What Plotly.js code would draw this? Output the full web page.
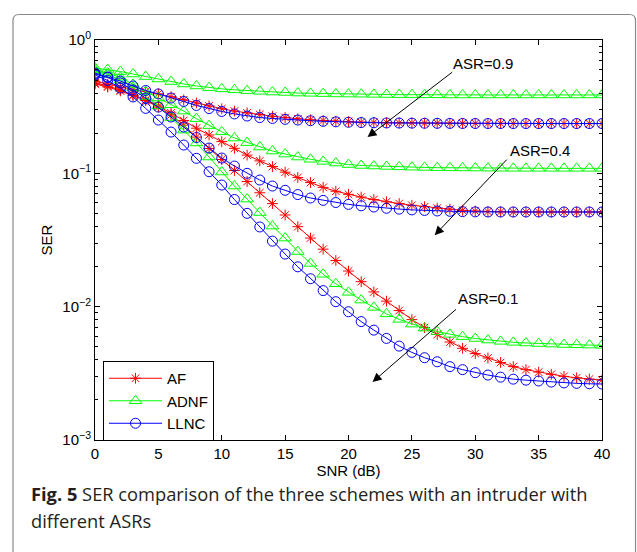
<!DOCTYPE html>
<html>
<head>
<meta charset="utf-8">
<script src="https://cdn.plot.ly/plotly-3.0.1.min.js"></script>
<style>html,body{margin:0;padding:0;background:#fff;}#chart{width:637px;height:552px;}</style>
</head>
<body>
<div id="chart"></div>
<script>
// SNR values (dB)
const snr = [0,1,2,3,4,5,6,7,8,9,10,11,12,13,14,15,16,17,18,19,20,21,22,23,24,25,26,27,28,29,30,31,32,33,34,35,36,37,38,39,40];

// ASR = 0.9
const af09 = [0.49,0.466,0.443,0.425,0.41,0.395,0.376,0.356,0.337,0.32,0.305,0.293,0.284,0.276,0.268,0.262,0.256,0.252,0.249,0.246,0.244,0.242,0.241,0.240,0.239,0.239,0.238,0.238,0.2375,0.237,0.237,0.237,0.2368,0.2366,0.2365,0.2365,0.2364,0.2364,0.2363,0.2363,0.2363];
const adnf09 = [0.617,0.601,0.580,0.556,0.532,0.510,0.488,0.468,0.452,0.439,0.430,0.423,0.417,0.412,0.407,0.404,0.400,0.398,0.396,0.394,0.393,0.392,0.391,0.390,0.389,0.389,0.388,0.388,0.387,0.387,0.387,0.387,0.387,0.387,0.387,0.387,0.387,0.387,0.387,0.387,0.387];
const llnc09 = [0.565,0.528,0.492,0.452,0.418,0.394,0.367,0.346,0.323,0.306,0.291,0.279,0.269,0.262,0.258,0.254,0.251,0.248,0.2455,0.2434,0.2417,0.2404,0.2396,0.2387,0.2383,0.2379,0.2375,0.2371,0.2368,0.2366,0.2365,0.2364,0.2364,0.2363,0.2363,0.2363,0.2363,0.2363,0.2363,0.2363,0.2363];

// ASR = 0.4
const af04 = [0.476,0.452,0.422,0.387,0.355,0.320,0.284,0.249,0.218,0.194,0.173,0.154,0.137,0.124,0.1125,0.102,0.093,0.0853,0.0785,0.0734,0.0696,0.0664,0.0636,0.0612,0.0593,0.0576,0.0562,0.0549,0.0538,0.0528,0.0521,0.0517,0.0514,0.0513,0.0513,0.0513,0.0513,0.0513,0.0513,0.0513,0.0513];
const adnf04 = [0.60,0.565,0.525,0.465,0.41,0.367,0.327,0.293,0.257,0.228,0.205,0.184,0.170,0.1575,0.147,0.1395,0.1325,0.1274,0.123,0.1195,0.1164,0.1145,0.1135,0.1126,0.1118,0.1112,0.1107,0.1103,0.110,0.1098,0.1096,0.1094,0.1092,0.109,0.109,0.109,0.109,0.109,0.109,0.109,0.109];
const llnc04 = [0.556,0.523,0.476,0.422,0.367,0.314,0.2645,0.2226,0.1856,0.1548,0.1302,0.1134,0.100,0.0891,0.0803,0.0746,0.0693,0.0653,0.0627,0.0604,0.0585,0.0571,0.0559,0.0547,0.0539,0.0532,0.0527,0.0522,0.0519,0.0516,0.0514,0.0513,0.0513,0.0513,0.0513,0.0513,0.0513,0.0513,0.0513,0.0513,0.0513];

// ASR = 0.1
const af01 = [0.468,0.444,0.4145,0.383,0.352,0.314,0.274,0.230,0.187,0.1535,0.127,0.105,0.0868,0.0715,0.0593,0.0487,0.0398,0.0327,0.0270,0.0222,0.0185,0.0154,0.0129,0.0110,0.00935,0.0080,0.00697,0.00618,0.00543,0.00487,0.00445,0.00412,0.00381,0.00355,0.00337,0.00323,0.00311,0.0030,0.00293,0.00286,0.00281];
const adnf01 = [0.5855,0.551,0.501,0.440,0.377,0.320,0.262,0.211,0.169,0.1325,0.1023,0.0803,0.0641,0.0508,0.0402,0.0327,0.0259,0.0211,0.0175,0.01485,0.0128,0.0112,0.00988,0.00883,0.00803,0.0074,0.00691,0.0065,0.0062,0.00596,0.00577,0.00562,0.00549,0.0054,0.00534,0.00529,0.00524,0.0052,0.00518,0.00515,0.00513];
const llnc01 = [0.546,0.497,0.436,0.374,0.307,0.251,0.204,0.163,0.1296,0.1028,0.0817,0.0636,0.0501,0.0396,0.0310,0.0248,0.0199,0.0162,0.0132,0.0109,0.00916,0.00773,0.00667,0.00578,0.00506,0.00454,0.00414,0.00386,0.00355,0.00337,0.0032,0.00307,0.00296,0.00286,0.00281,0.00277,0.00272,0.00268,0.00266,0.00264,0.00263];

const seriesNames = ['AF','ADNF','LLNC'];
const asrLabels = ['ASR=0.9','ASR=0.4','ASR=0.1'];
// annotation anchors (SNR, SER)
const annoText = [[30.6,0.672],[35.1,0.1496],[31.0,0.0116]];
const annoTail = [[28.3,0.585],[32.6,0.130],[28.6,0.00977]];
const annoHead = [[21.5,0.187],[26.8,0.0344],[21.9,0.00272]];

const majorY = [0.001,0.01,0.1,1];
const majorYText = ['10<sup>−3</sup>','10<sup>−2</sup>','10<sup>−1</sup>','10<sup>0</sup>'];
const minorDigits = [2,3,4,5,6,7,8,9];

const data = {AF:[af09,af04,af01], ADNF:[adnf09,adnf04,adnf01], LLNC:[llnc09,llnc04,llnc01]};
const styles = {
  AF:{color:'#ff0000', symbol:'asterisk-open', size:9},
  ADNF:{color:'#00ff00', symbol:'triangle-up-open', size:11},
  LLNC:{color:'#0000ff', symbol:'circle-open', size:10}
};

const traces = [];
seriesNames.forEach(name => {
  data[name].forEach((ys, i) => {
    const s = styles[name];
    traces.push({
      x: snr, y: ys, type:'scatter', mode:'lines+markers', name: name,
      legendgroup: name, showlegend: i === 0,
      line:{color:s.color, width:1},
      marker:{symbol:s.symbol, size:s.size, color:s.color, line:{color:s.color, width:1}}
    });
  });
});

const minorVals = [];
[0.001,0.01,0.1].forEach(d => minorDigits.forEach(k => minorVals.push(d*k)));

const font = 'Liberation Sans, Arial, Helvetica, sans-serif';
const annotations = [];
for (let i = 0; i < 3; i++) {
  annotations.push({
    x: annoHead[i][0], y: Math.log10(annoHead[i][1]), xref:'x', yref:'y',
    ax: annoTail[i][0], ay: Math.log10(annoTail[i][1]), axref:'x', ayref:'y',
    text:'', showarrow:true, arrowhead:2, arrowsize:1.8, arrowwidth:1, arrowcolor:'#000', standoff:0, startstandoff:0
  });
  annotations.push({
    x: annoText[i][0], y: Math.log10(annoText[i][1]), xref:'x', yref:'y',
    text: asrLabels[i], showarrow:false, font:{family:font, size:15, color:'#000'}
  });
}
const capFont = 'Open Sans, Noto Sans, sans-serif';
annotations.push({xref:'paper', yref:'paper', x:-0.1302, y:-0.1325, xanchor:'left', yanchor:'middle', showarrow:false,
  text:'<b>Fig. 5</b> SER comparison of the three schemes with an intruder with', font:{family:capFont, size:18.3, color:'#231f20'}});
annotations.push({xref:'paper', yref:'paper', x:-0.1302, y:-0.2, xanchor:'left', yanchor:'middle', showarrow:false,
  text:'different ASRs', font:{family:capFont, size:18.3, color:'#231f20'}});

const layout = {
  width:637, height:552,
  margin:{l:95, r:35, t:40, b:112},
  paper_bgcolor:'#fff', plot_bgcolor:'#fff',
  font:{family:font, size:15, color:'#000'},
  showlegend:true,
  legend:{x:0.0158, y:0.1975, xanchor:'left', yanchor:'top', bordercolor:'#000', borderwidth:1, bgcolor:'#fff',
    font:{family:font, size:15, color:'#000'}, tracegroupgap:0, itemwidth:53},
  xaxis:{range:[0,40], dtick:5, tick0:0, ticks:'inside', ticklen:5, tickcolor:'#000', showline:true, linecolor:'#000', linewidth:1,
    mirror:'ticks', showgrid:false, zeroline:false, tickfont:{family:font, size:15},
    title:{text:'SNR (dB)', font:{family:font, size:15}, standoff:0}},
  yaxis:{type:'log', range:[-3,0], tickmode:'array', tickvals:majorY, ticktext:majorYText, ticks:'inside', ticklen:5, tickcolor:'#000',
    showline:true, linecolor:'#000', linewidth:1, mirror:'ticks', showgrid:false, zeroline:false, tickfont:{family:font, size:15},
    minor:{tickmode:'array', tickvals:minorVals, ticks:'inside', ticklen:3, tickcolor:'#000', showgrid:false},
    title:{text:'SER', font:{family:font, size:15}, standoff:6}},
  annotations: annotations,
  shapes:[{type:'path', xref:'paper', yref:'paper', layer:'above',
    path:'M -0.1617 -0.3 L -0.1617 1.04875 Q -0.1617 1.06375 -0.14987 1.06375 L 1.05427 1.06375 Q 1.0661 1.06375 1.0661 1.04875 L 1.0661 -0.3',
    line:{color:'#8a8a8a', width:1.2}}]
};

Plotly.newPlot('chart', traces, layout, {staticPlot:true, displayModeBar:false});
</script>
</body>
</html>
